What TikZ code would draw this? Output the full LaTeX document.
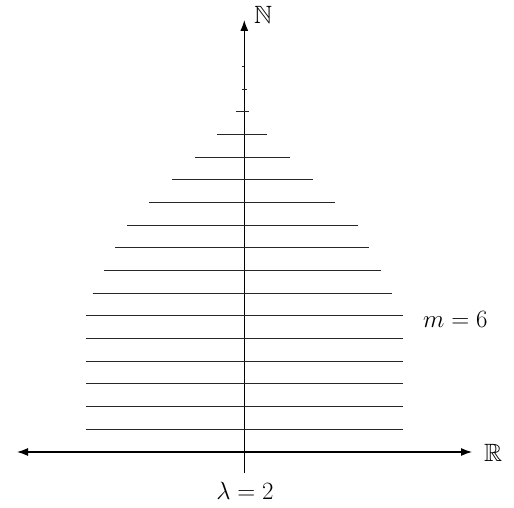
\documentclass[tikz,border=0pt]{standalone}
\usepackage{amssymb}
\usetikzlibrary{arrows.meta}
\tikzset{
  axis/.style={line width=1.2pt, -{Latex[length=11pt,width=8pt]}},
  bothaxis/.style={line width=1.2pt, {Latex[length=11pt,width=8pt]}-{Latex[length=11pt,width=8pt]}},
  level/.style={line width=1pt, black!85},
  lbl/.style={inner sep=0pt, font=\fontsize{25}{30}\selectfont}
}
\begin{document}
\begin{tikzpicture}[x=1pt,y=-1pt]
\useasboundingbox (0,0) rectangle (514,508);
% axes
\coordinate (vb) at (244.3,473);
\coordinate (vt) at (244.3,20);
\coordinate (hl) at (17,452);
\coordinate (hr) at (472,452);
\draw[axis] (vb) -- (vt);
\draw[bothaxis] (hl) -- (hr);
% levels
\foreach \k/\xl/\xr in {1/86/403.3,2/86/403.3,3/86/403.3,4/86/403.3,5/86/403.3,6/86/403.3,
  7/92.7/392,8/104/380.7,9/115.3/369.3,10/127/357.7,11/149.3/335.3,12/172.3/312.7,
  13/195/290,14/217.3/267.3,15/235.7/249.3,16/242.3/247,17/242.3/244.3}
  \draw[level] (\xl,452-22.67*\k) -- (\xr,452-22.67*\k);
% labels
\node[lbl, anchor=base west] (N) at (254,24) {$\mathbb{N}$};
\node[lbl, anchor=base west] (R) at (484,461) {$\mathbb{R}$};
\node[lbl, anchor=base] (lam) at (245,499) {$\lambda=2$};
\node[lbl, anchor=base west] (m6) at (423,327) {$m=6$};
\end{tikzpicture}
\end{document}
